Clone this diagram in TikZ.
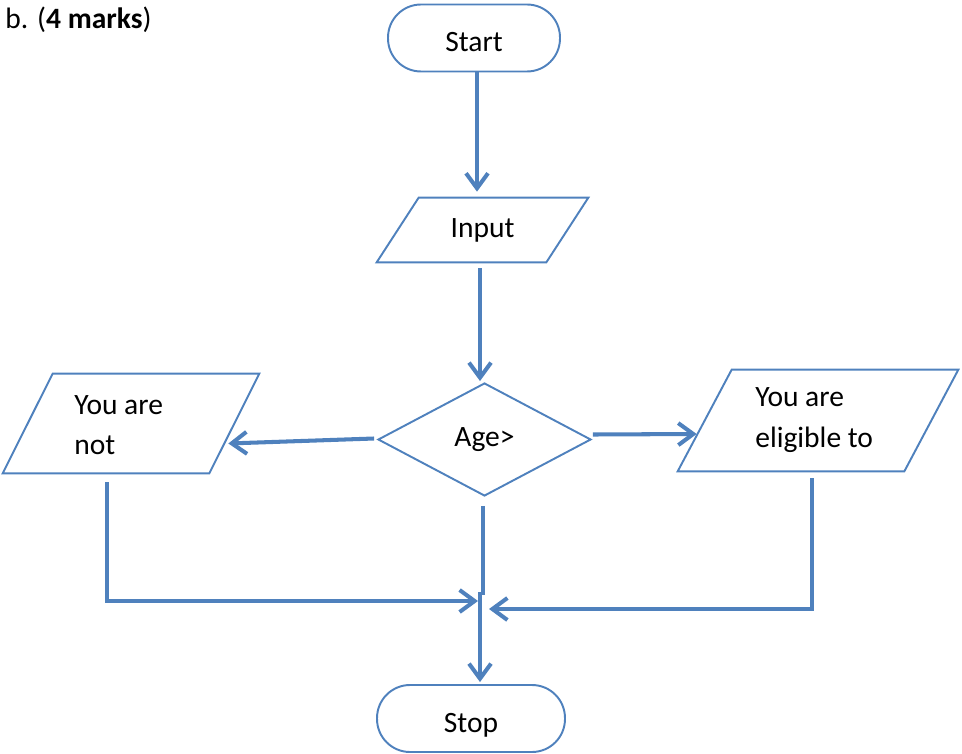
\documentclass[tikz,border=0pt]{standalone}
\usepackage{fontspec}
\setmainfont{Carlito}
\usetikzlibrary{shapes.geometric,arrows.meta}
\definecolor{flowblue}{RGB}{79,129,189}
\tikzset{
  shp/.style={draw=flowblue, line width=1.1pt},
  arr/.style={draw=flowblue, line width=2.3pt, -{Straight Barb[length=3mm,width=4.4mm]}},
  link/.style={draw=flowblue, line width=2.3pt},
  term/.style={shp, rounded corners=0.66cm, minimum height=1.34cm, text height=15.5pt, text depth=0pt}
}
% parallelogram outline round an (invisible) node
\newcommand\ioframe[2]{\draw[shp] ([xshift=#2]#1.north west) -- (#1.north east) -- ([xshift=-#2]#1.south east) -- (#1.south west) -- cycle;}
\begin{document}
\begin{tikzpicture}[x=0.02cm, y=-0.02cm, font=\fontsize{16.8}{23}\selectfont]
  \useasboundingbox (0,0) rectangle (962,753);
  \node[anchor=west, inner sep=0pt] (title) at (5,20) {b. (\textbf{4 marks})};

  \node[term, minimum width=3.44cm] (start) at (474,38) {Start};
  \node[minimum width=4.22cm, minimum height=1.28cm] (input) at (482.5,230) {Input};
  \ioframe{input}{0.84cm}
  \node[shp, diamond, aspect=2, inner sep=0pt, minimum width=4.26cm, minimum height=2.26cm] (age) at (484.5,439.5) {Age>};

  \node[minimum width=5.12cm, minimum height=1.98cm] (notbox) at (131,423.5) {};
  \ioframe{notbox}{1cm}
  \node[anchor=west, align=left, inner sep=0pt] (nottext) at (74,425) {You are\\not};

  \node[minimum width=5.6cm, minimum height=2.02cm] (okbox) at (818,420.5) {};
  \ioframe{okbox}{1.08cm}
  \node[anchor=west, align=left, inner sep=0pt] (oktext) at (755,420) {You are\\eligible to};

  \node[term, minimum width=3.76cm] (stop) at (471,718.5) {Stop};
  \coordinate (join) at (482,601);

  \draw[arr] ([shift={(3,0)}]start.south) -- ([shift={(-5.5,-6)}]input.north);
  \draw[arr] ([shift={(-2.5,6)}]input.south) -- ([shift={(-4.5,-1)}]age.north);
  \draw[arr] ([shift={(-3,-1)}]age.west) -- ([shift={(-31,20)}]notbox.east);
  \draw[arr] ([shift={(1,-5)}]age.east) -- ([shift={(19,13.5)}]okbox.west);
  \draw[arr] ([shift={(-24,9)}]notbox.south) |- ([shift={(-4,0)}]join);
  \draw[arr] ([shift={(-6,7)}]okbox.south) |- ([shift={(7,8)}]join);
  \draw[link] ([shift={(-1.5,9)}]age.south) -- ([shift={(1,-6)}]join);
  \draw[arr] ([shift={(-2,-9)}]join) -- ([shift={(-2,-2)}]join |- stop.north);
\end{tikzpicture}
\end{document}
